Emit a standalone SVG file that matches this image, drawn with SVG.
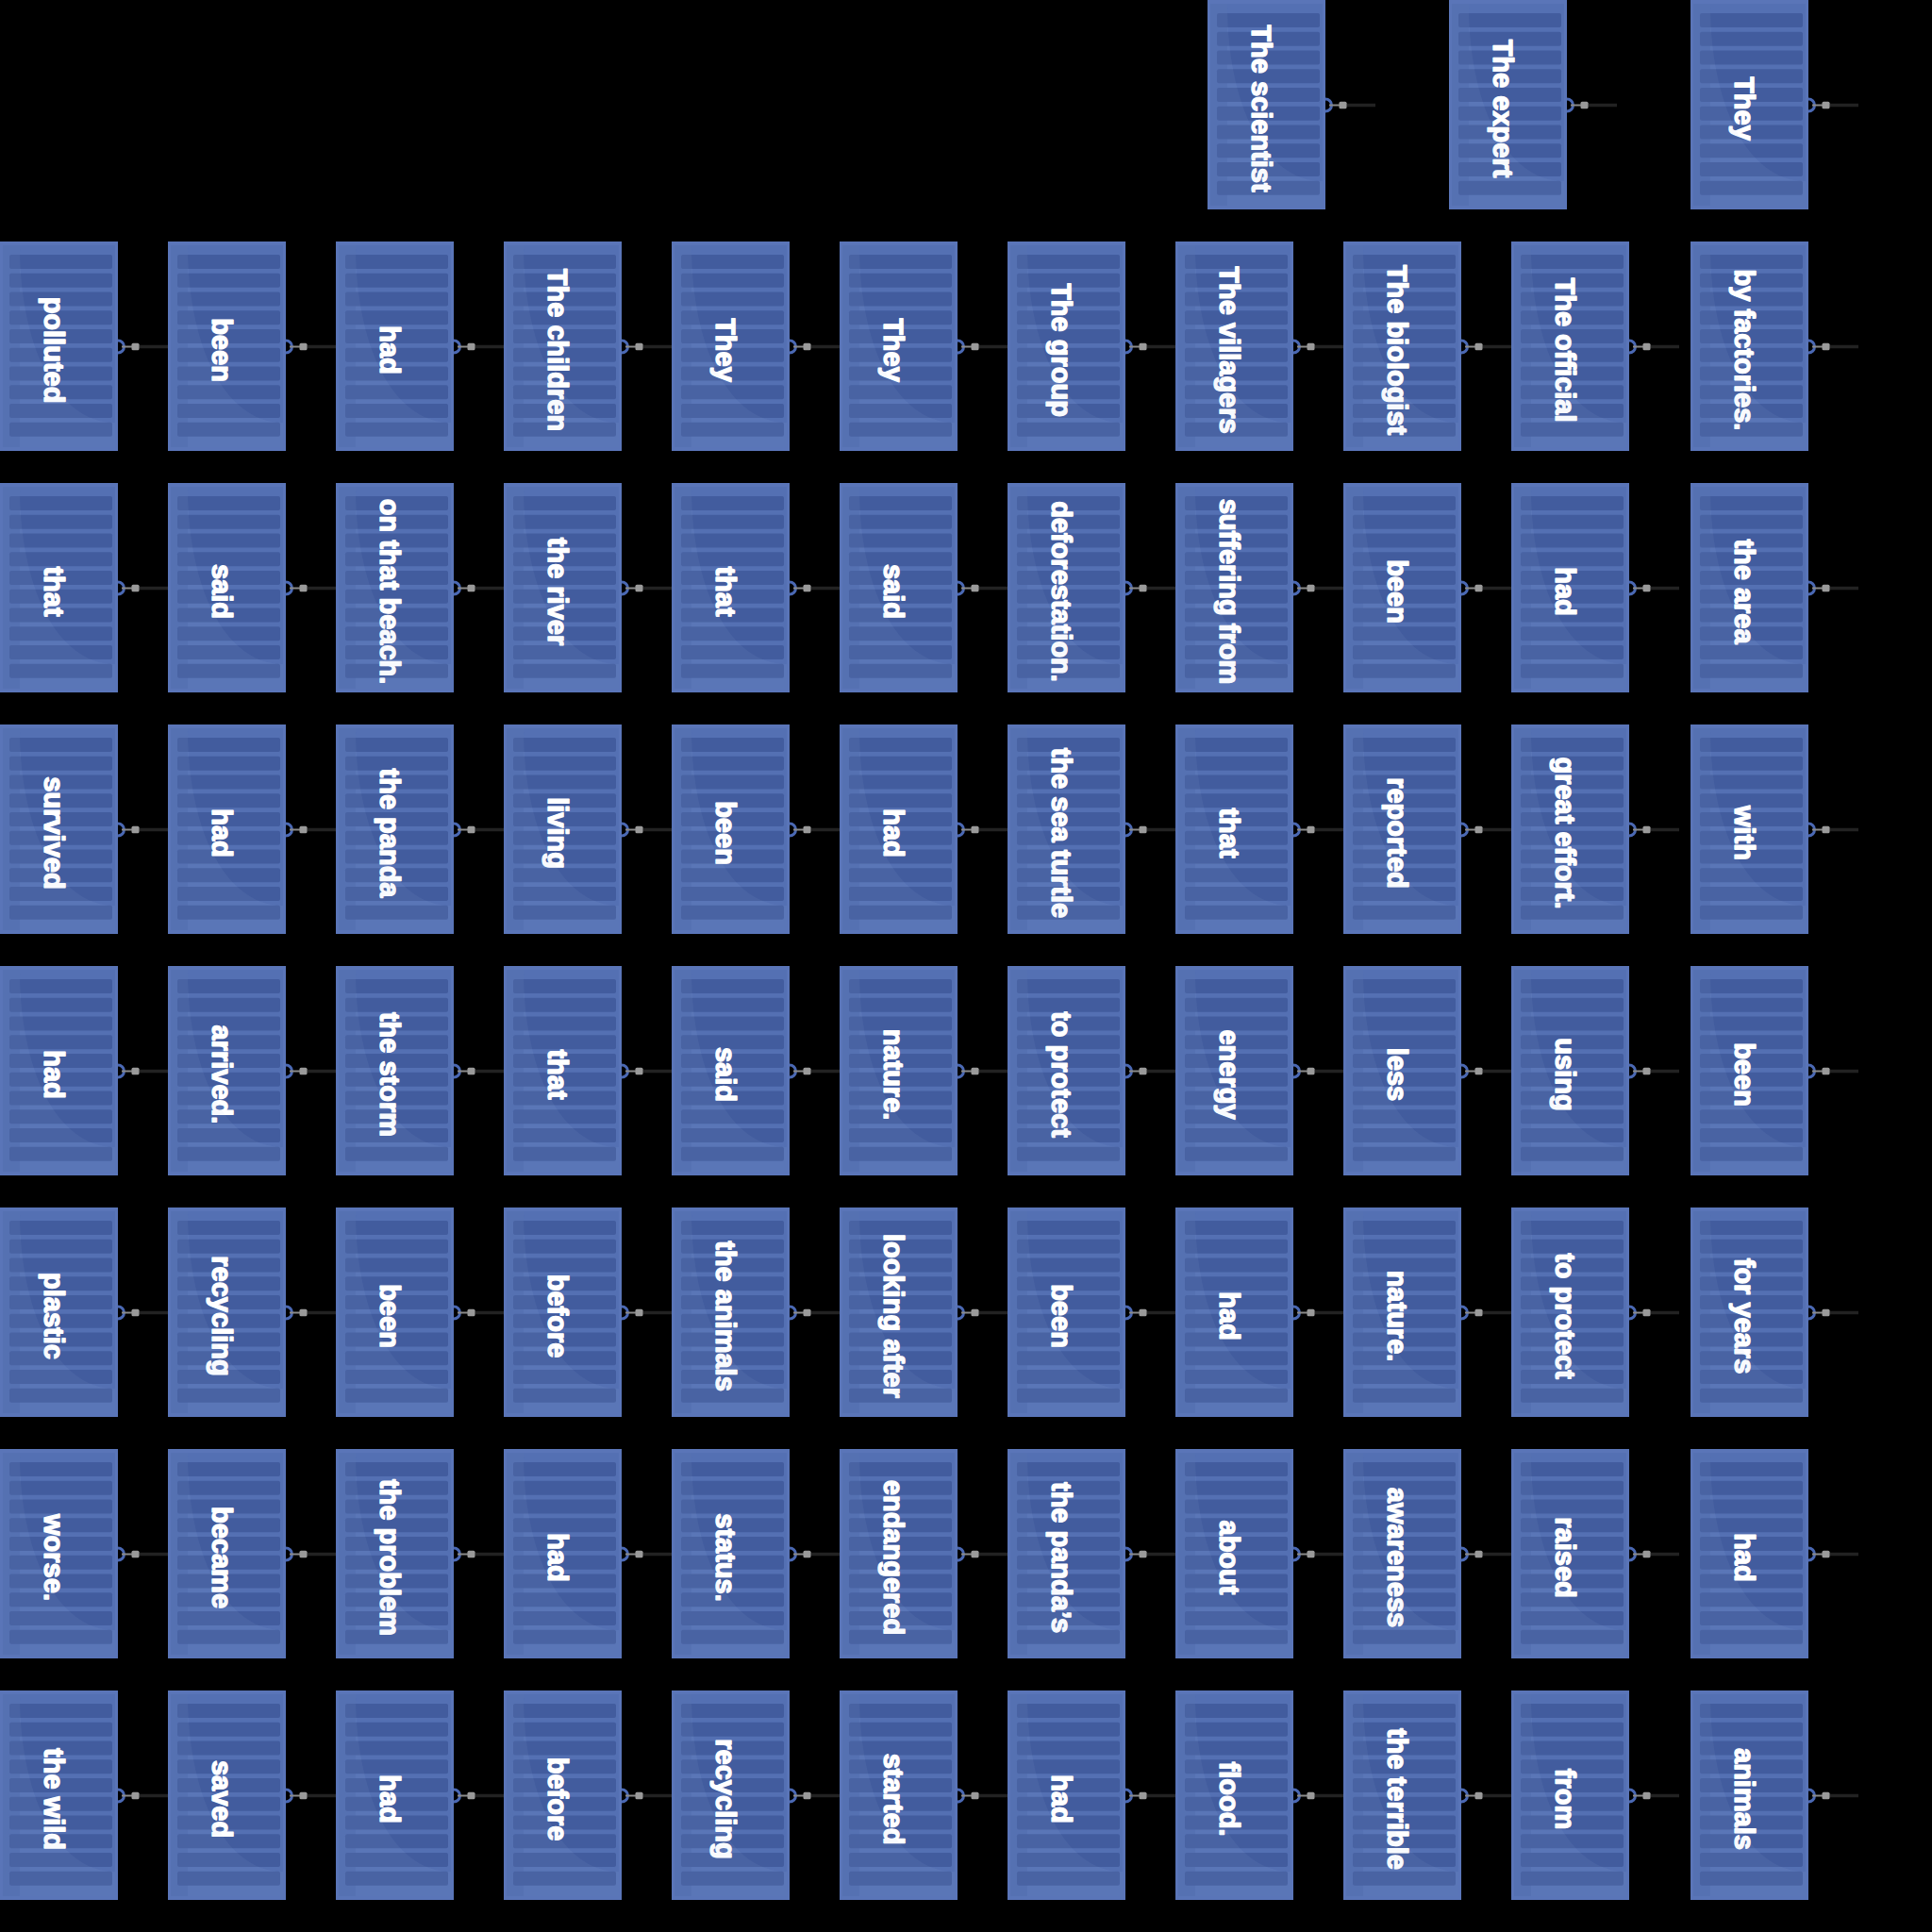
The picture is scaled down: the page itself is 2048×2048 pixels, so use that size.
<svg xmlns="http://www.w3.org/2000/svg" xmlns:xlink="http://www.w3.org/1999/xlink" width="2048" height="2048" viewBox="0 0 2048 2048">
<style>
.t{font-family:"Liberation Sans",Arial,sans-serif;font-weight:bold;font-size:29px;fill:#ffffff;stroke:#ffffff;stroke-width:1.4;stroke-linejoin:round;text-anchor:middle}
.bar{fill:#425c9e}
</style>
<defs>
<g id="bg">
<rect x="0" y="0" width="125" height="222" fill="#5a75b8"/>
<rect x="3" y="4" width="119" height="214" fill="#5470b3"/>
<rect x="3" y="4" width="18" height="214" fill="#4c67aa" opacity="0.6"/>
<rect class="bar" x="10" y="14" width="109" height="15" rx="2"/>
<rect class="bar" x="10" y="33.7" width="109" height="15" rx="2"/>
<rect class="bar" x="10" y="53.5" width="109" height="15" rx="2"/>
<rect class="bar" x="10" y="73.2" width="109" height="15" rx="2"/>
<rect class="bar" x="10" y="93" width="109" height="15" rx="2"/>
<rect class="bar" x="10" y="112.7" width="109" height="15" rx="2"/>
<rect class="bar" x="10" y="132.4" width="109" height="15" rx="2"/>
<rect class="bar" x="10" y="152.2" width="109" height="15" rx="2"/>
<rect class="bar" x="10" y="171.9" width="109" height="15" rx="2"/>
<rect class="bar" x="10" y="191.7" width="109" height="15" rx="2"/>
</g>
<path id="ov" d="M21,4 C21,110 60,192 122,192 L122,218 L3,218 L3,4 Z" fill="#a9b9e0" opacity="0.08"/>
<g id="conn">
<path d="M0,-6.5 A6.5,6.5 0 0 1 0,6.5" fill="none" stroke="#4a68b3" stroke-width="3"/>
<line x1="4" y1="0" x2="16" y2="0" stroke="#8a8a8a" stroke-width="2"/>
<line x1="22" y1="0" x2="53" y2="0" stroke="#222222" stroke-width="3.5"/>
<rect x="14.5" y="-3.7" width="8" height="7.4" rx="1.5" fill="#9a9a9a"/>
</g>
</defs>
<rect width="2048" height="2048" fill="#000000"/>
<g id="connectors">
<use href="#conn" transform="translate(1405,111.5)"/>
<use href="#conn" transform="translate(1661,111.5)"/>
<use href="#conn" transform="translate(1917,111.5)"/>
<g transform="translate(0,256)"><use href="#conn" transform="translate(125,111.5)"/><use href="#conn" transform="translate(303,111.5)"/><use href="#conn" transform="translate(481,111.5)"/><use href="#conn" transform="translate(659,111.5)"/><use href="#conn" transform="translate(837,111.5)"/><use href="#conn" transform="translate(1015,111.5)"/><use href="#conn" transform="translate(1193,111.5)"/><use href="#conn" transform="translate(1371,111.5)"/><use href="#conn" transform="translate(1549,111.5)"/><use href="#conn" transform="translate(1727,111.5)"/><use href="#conn" transform="translate(1917,111.5)"/></g>
<g transform="translate(0,512)"><use href="#conn" transform="translate(125,111.5)"/><use href="#conn" transform="translate(303,111.5)"/><use href="#conn" transform="translate(481,111.5)"/><use href="#conn" transform="translate(659,111.5)"/><use href="#conn" transform="translate(837,111.5)"/><use href="#conn" transform="translate(1015,111.5)"/><use href="#conn" transform="translate(1193,111.5)"/><use href="#conn" transform="translate(1371,111.5)"/><use href="#conn" transform="translate(1549,111.5)"/><use href="#conn" transform="translate(1727,111.5)"/><use href="#conn" transform="translate(1917,111.5)"/></g>
<g transform="translate(0,768)"><use href="#conn" transform="translate(125,111.5)"/><use href="#conn" transform="translate(303,111.5)"/><use href="#conn" transform="translate(481,111.5)"/><use href="#conn" transform="translate(659,111.5)"/><use href="#conn" transform="translate(837,111.5)"/><use href="#conn" transform="translate(1015,111.5)"/><use href="#conn" transform="translate(1193,111.5)"/><use href="#conn" transform="translate(1371,111.5)"/><use href="#conn" transform="translate(1549,111.5)"/><use href="#conn" transform="translate(1727,111.5)"/><use href="#conn" transform="translate(1917,111.5)"/></g>
<g transform="translate(0,1024)"><use href="#conn" transform="translate(125,111.5)"/><use href="#conn" transform="translate(303,111.5)"/><use href="#conn" transform="translate(481,111.5)"/><use href="#conn" transform="translate(659,111.5)"/><use href="#conn" transform="translate(837,111.5)"/><use href="#conn" transform="translate(1015,111.5)"/><use href="#conn" transform="translate(1193,111.5)"/><use href="#conn" transform="translate(1371,111.5)"/><use href="#conn" transform="translate(1549,111.5)"/><use href="#conn" transform="translate(1727,111.5)"/><use href="#conn" transform="translate(1917,111.5)"/></g>
<g transform="translate(0,1280)"><use href="#conn" transform="translate(125,111.5)"/><use href="#conn" transform="translate(303,111.5)"/><use href="#conn" transform="translate(481,111.5)"/><use href="#conn" transform="translate(659,111.5)"/><use href="#conn" transform="translate(837,111.5)"/><use href="#conn" transform="translate(1015,111.5)"/><use href="#conn" transform="translate(1193,111.5)"/><use href="#conn" transform="translate(1371,111.5)"/><use href="#conn" transform="translate(1549,111.5)"/><use href="#conn" transform="translate(1727,111.5)"/><use href="#conn" transform="translate(1917,111.5)"/></g>
<g transform="translate(0,1536)"><use href="#conn" transform="translate(125,111.5)"/><use href="#conn" transform="translate(303,111.5)"/><use href="#conn" transform="translate(481,111.5)"/><use href="#conn" transform="translate(659,111.5)"/><use href="#conn" transform="translate(837,111.5)"/><use href="#conn" transform="translate(1015,111.5)"/><use href="#conn" transform="translate(1193,111.5)"/><use href="#conn" transform="translate(1371,111.5)"/><use href="#conn" transform="translate(1549,111.5)"/><use href="#conn" transform="translate(1727,111.5)"/><use href="#conn" transform="translate(1917,111.5)"/></g>
<g transform="translate(0,1792)"><use href="#conn" transform="translate(125,111.5)"/><use href="#conn" transform="translate(303,111.5)"/><use href="#conn" transform="translate(481,111.5)"/><use href="#conn" transform="translate(659,111.5)"/><use href="#conn" transform="translate(837,111.5)"/><use href="#conn" transform="translate(1015,111.5)"/><use href="#conn" transform="translate(1193,111.5)"/><use href="#conn" transform="translate(1371,111.5)"/><use href="#conn" transform="translate(1549,111.5)"/><use href="#conn" transform="translate(1727,111.5)"/><use href="#conn" transform="translate(1917,111.5)"/></g>
</g>
<g id="nodes">
<g id="n0a" transform="translate(1280,0)"><use href="#bg"/><text class="t" transform="translate(47,115) rotate(90)">The scientist</text><use href="#ov"/></g>
<g id="n0b" transform="translate(1536,0)"><use href="#bg"/><text class="t" transform="translate(47,115) rotate(90)">The expert</text><use href="#ov"/></g>
<g id="n0c" transform="translate(1792,0)"><use href="#bg"/><text class="t" transform="translate(47,115) rotate(90)">They</text><use href="#ov"/></g>

<g id="n1-0" transform="translate(0,256)"><use href="#bg"/><text class="t" transform="translate(47,115) rotate(90)">polluted</text><use href="#ov"/></g>
<g id="n1-1" transform="translate(178,256)"><use href="#bg"/><text class="t" transform="translate(47,115) rotate(90)">been</text><use href="#ov"/></g>
<g id="n1-2" transform="translate(356,256)"><use href="#bg"/><text class="t" transform="translate(47,115) rotate(90)">had</text><use href="#ov"/></g>
<g id="n1-3" transform="translate(534,256)"><use href="#bg"/><text class="t" transform="translate(47,115) rotate(90)">The children</text><use href="#ov"/></g>
<g id="n1-4" transform="translate(712,256)"><use href="#bg"/><text class="t" transform="translate(47,115) rotate(90)">They</text><use href="#ov"/></g>
<g id="n1-5" transform="translate(890,256)"><use href="#bg"/><text class="t" transform="translate(47,115) rotate(90)">They</text><use href="#ov"/></g>
<g id="n1-6" transform="translate(1068,256)"><use href="#bg"/><text class="t" transform="translate(47,115) rotate(90)">The group</text><use href="#ov"/></g>
<g id="n1-7" transform="translate(1246,256)"><use href="#bg"/><text class="t" transform="translate(47,115) rotate(90)">The villagers</text><use href="#ov"/></g>
<g id="n1-8" transform="translate(1424,256)"><use href="#bg"/><text class="t" transform="translate(47,115) rotate(90)">The biologist</text><use href="#ov"/></g>
<g id="n1-9" transform="translate(1602,256)"><use href="#bg"/><text class="t" transform="translate(47,115) rotate(90)">The official</text><use href="#ov"/></g>
<g id="n1-10" transform="translate(1792,256)"><use href="#bg"/><text class="t" transform="translate(47,115) rotate(90)">by factories.</text><use href="#ov"/></g>

<g id="n2-0" transform="translate(0,512)"><use href="#bg"/><text class="t" transform="translate(47,115) rotate(90)">that</text><use href="#ov"/></g>
<g id="n2-1" transform="translate(178,512)"><use href="#bg"/><text class="t" transform="translate(47,115) rotate(90)">said</text><use href="#ov"/></g>
<g id="n2-2" transform="translate(356,512)"><use href="#bg"/><text class="t" transform="translate(47,115) rotate(90)">on that beach.</text><use href="#ov"/></g>
<g id="n2-3" transform="translate(534,512)"><use href="#bg"/><text class="t" transform="translate(47,115) rotate(90)">the river</text><use href="#ov"/></g>
<g id="n2-4" transform="translate(712,512)"><use href="#bg"/><text class="t" transform="translate(47,115) rotate(90)">that</text><use href="#ov"/></g>
<g id="n2-5" transform="translate(890,512)"><use href="#bg"/><text class="t" transform="translate(47,115) rotate(90)">said</text><use href="#ov"/></g>
<g id="n2-6" transform="translate(1068,512)"><use href="#bg"/><text class="t" transform="translate(47,115) rotate(90)">deforestation.</text><use href="#ov"/></g>
<g id="n2-7" transform="translate(1246,512)"><use href="#bg"/><text class="t" transform="translate(47,115) rotate(90)">suffering from</text><use href="#ov"/></g>
<g id="n2-8" transform="translate(1424,512)"><use href="#bg"/><text class="t" transform="translate(47,115) rotate(90)">been</text><use href="#ov"/></g>
<g id="n2-9" transform="translate(1602,512)"><use href="#bg"/><text class="t" transform="translate(47,115) rotate(90)">had</text><use href="#ov"/></g>
<g id="n2-10" transform="translate(1792,512)"><use href="#bg"/><text class="t" transform="translate(47,115) rotate(90)">the area</text><use href="#ov"/></g>

<g id="n3-0" transform="translate(0,768)"><use href="#bg"/><text class="t" transform="translate(47,115) rotate(90)">survived</text><use href="#ov"/></g>
<g id="n3-1" transform="translate(178,768)"><use href="#bg"/><text class="t" transform="translate(47,115) rotate(90)">had</text><use href="#ov"/></g>
<g id="n3-2" transform="translate(356,768)"><use href="#bg"/><text class="t" transform="translate(47,115) rotate(90)">the panda</text><use href="#ov"/></g>
<g id="n3-3" transform="translate(534,768)"><use href="#bg"/><text class="t" transform="translate(47,115) rotate(90)">living</text><use href="#ov"/></g>
<g id="n3-4" transform="translate(712,768)"><use href="#bg"/><text class="t" transform="translate(47,115) rotate(90)">been</text><use href="#ov"/></g>
<g id="n3-5" transform="translate(890,768)"><use href="#bg"/><text class="t" transform="translate(47,115) rotate(90)">had</text><use href="#ov"/></g>
<g id="n3-6" transform="translate(1068,768)"><use href="#bg"/><text class="t" transform="translate(47,115) rotate(90)">the sea turtle</text><use href="#ov"/></g>
<g id="n3-7" transform="translate(1246,768)"><use href="#bg"/><text class="t" transform="translate(47,115) rotate(90)">that</text><use href="#ov"/></g>
<g id="n3-8" transform="translate(1424,768)"><use href="#bg"/><text class="t" transform="translate(47,115) rotate(90)">reported</text><use href="#ov"/></g>
<g id="n3-9" transform="translate(1602,768)"><use href="#bg"/><text class="t" transform="translate(47,115) rotate(90)">great effort.</text><use href="#ov"/></g>
<g id="n3-10" transform="translate(1792,768)"><use href="#bg"/><text class="t" transform="translate(47,115) rotate(90)">with</text><use href="#ov"/></g>

<g id="n4-0" transform="translate(0,1024)"><use href="#bg"/><text class="t" transform="translate(47,115) rotate(90)">had</text><use href="#ov"/></g>
<g id="n4-1" transform="translate(178,1024)"><use href="#bg"/><text class="t" transform="translate(47,115) rotate(90)">arrived.</text><use href="#ov"/></g>
<g id="n4-2" transform="translate(356,1024)"><use href="#bg"/><text class="t" transform="translate(47,115) rotate(90)">the storm</text><use href="#ov"/></g>
<g id="n4-3" transform="translate(534,1024)"><use href="#bg"/><text class="t" transform="translate(47,115) rotate(90)">that</text><use href="#ov"/></g>
<g id="n4-4" transform="translate(712,1024)"><use href="#bg"/><text class="t" transform="translate(47,115) rotate(90)">said</text><use href="#ov"/></g>
<g id="n4-5" transform="translate(890,1024)"><use href="#bg"/><text class="t" transform="translate(47,115) rotate(90)">nature.</text><use href="#ov"/></g>
<g id="n4-6" transform="translate(1068,1024)"><use href="#bg"/><text class="t" transform="translate(47,115) rotate(90)">to protect</text><use href="#ov"/></g>
<g id="n4-7" transform="translate(1246,1024)"><use href="#bg"/><text class="t" transform="translate(47,115) rotate(90)">energy</text><use href="#ov"/></g>
<g id="n4-8" transform="translate(1424,1024)"><use href="#bg"/><text class="t" transform="translate(47,115) rotate(90)">less</text><use href="#ov"/></g>
<g id="n4-9" transform="translate(1602,1024)"><use href="#bg"/><text class="t" transform="translate(47,115) rotate(90)">using</text><use href="#ov"/></g>
<g id="n4-10" transform="translate(1792,1024)"><use href="#bg"/><text class="t" transform="translate(47,115) rotate(90)">been</text><use href="#ov"/></g>

<g id="n5-0" transform="translate(0,1280)"><use href="#bg"/><text class="t" transform="translate(47,115) rotate(90)">plastic</text><use href="#ov"/></g>
<g id="n5-1" transform="translate(178,1280)"><use href="#bg"/><text class="t" transform="translate(47,115) rotate(90)">recycling</text><use href="#ov"/></g>
<g id="n5-2" transform="translate(356,1280)"><use href="#bg"/><text class="t" transform="translate(47,115) rotate(90)">been</text><use href="#ov"/></g>
<g id="n5-3" transform="translate(534,1280)"><use href="#bg"/><text class="t" transform="translate(47,115) rotate(90)">before</text><use href="#ov"/></g>
<g id="n5-4" transform="translate(712,1280)"><use href="#bg"/><text class="t" transform="translate(47,115) rotate(90)">the animals</text><use href="#ov"/></g>
<g id="n5-5" transform="translate(890,1280)"><use href="#bg"/><text class="t" transform="translate(47,115) rotate(90)">looking after</text><use href="#ov"/></g>
<g id="n5-6" transform="translate(1068,1280)"><use href="#bg"/><text class="t" transform="translate(47,115) rotate(90)">been</text><use href="#ov"/></g>
<g id="n5-7" transform="translate(1246,1280)"><use href="#bg"/><text class="t" transform="translate(47,115) rotate(90)">had</text><use href="#ov"/></g>
<g id="n5-8" transform="translate(1424,1280)"><use href="#bg"/><text class="t" transform="translate(47,115) rotate(90)">nature.</text><use href="#ov"/></g>
<g id="n5-9" transform="translate(1602,1280)"><use href="#bg"/><text class="t" transform="translate(47,115) rotate(90)">to protect</text><use href="#ov"/></g>
<g id="n5-10" transform="translate(1792,1280)"><use href="#bg"/><text class="t" transform="translate(47,115) rotate(90)">for years</text><use href="#ov"/></g>

<g id="n6-0" transform="translate(0,1536)"><use href="#bg"/><text class="t" transform="translate(47,115) rotate(90)">worse.</text><use href="#ov"/></g>
<g id="n6-1" transform="translate(178,1536)"><use href="#bg"/><text class="t" transform="translate(47,115) rotate(90)">became</text><use href="#ov"/></g>
<g id="n6-2" transform="translate(356,1536)"><use href="#bg"/><text class="t" transform="translate(47,115) rotate(90)">the problem</text><use href="#ov"/></g>
<g id="n6-3" transform="translate(534,1536)"><use href="#bg"/><text class="t" transform="translate(47,115) rotate(90)">had</text><use href="#ov"/></g>
<g id="n6-4" transform="translate(712,1536)"><use href="#bg"/><text class="t" transform="translate(47,115) rotate(90)">status.</text><use href="#ov"/></g>
<g id="n6-5" transform="translate(890,1536)"><use href="#bg"/><text class="t" transform="translate(47,115) rotate(90)">endangered</text><use href="#ov"/></g>
<g id="n6-6" transform="translate(1068,1536)"><use href="#bg"/><text class="t" transform="translate(47,115) rotate(90)">the panda’s</text><use href="#ov"/></g>
<g id="n6-7" transform="translate(1246,1536)"><use href="#bg"/><text class="t" transform="translate(47,115) rotate(90)">about</text><use href="#ov"/></g>
<g id="n6-8" transform="translate(1424,1536)"><use href="#bg"/><text class="t" transform="translate(47,115) rotate(90)">awareness</text><use href="#ov"/></g>
<g id="n6-9" transform="translate(1602,1536)"><use href="#bg"/><text class="t" transform="translate(47,115) rotate(90)">raised</text><use href="#ov"/></g>
<g id="n6-10" transform="translate(1792,1536)"><use href="#bg"/><text class="t" transform="translate(47,115) rotate(90)">had</text><use href="#ov"/></g>

<g id="n7-0" transform="translate(0,1792)"><use href="#bg"/><text class="t" transform="translate(47,115) rotate(90)">the wild</text><use href="#ov"/></g>
<g id="n7-1" transform="translate(178,1792)"><use href="#bg"/><text class="t" transform="translate(47,115) rotate(90)">saved</text><use href="#ov"/></g>
<g id="n7-2" transform="translate(356,1792)"><use href="#bg"/><text class="t" transform="translate(47,115) rotate(90)">had</text><use href="#ov"/></g>
<g id="n7-3" transform="translate(534,1792)"><use href="#bg"/><text class="t" transform="translate(47,115) rotate(90)">before</text><use href="#ov"/></g>
<g id="n7-4" transform="translate(712,1792)"><use href="#bg"/><text class="t" transform="translate(47,115) rotate(90)">recycling</text><use href="#ov"/></g>
<g id="n7-5" transform="translate(890,1792)"><use href="#bg"/><text class="t" transform="translate(47,115) rotate(90)">started</text><use href="#ov"/></g>
<g id="n7-6" transform="translate(1068,1792)"><use href="#bg"/><text class="t" transform="translate(47,115) rotate(90)">had</text><use href="#ov"/></g>
<g id="n7-7" transform="translate(1246,1792)"><use href="#bg"/><text class="t" transform="translate(47,115) rotate(90)">flood.</text><use href="#ov"/></g>
<g id="n7-8" transform="translate(1424,1792)"><use href="#bg"/><text class="t" transform="translate(47,115) rotate(90)">the terrible</text><use href="#ov"/></g>
<g id="n7-9" transform="translate(1602,1792)"><use href="#bg"/><text class="t" transform="translate(47,115) rotate(90)">from</text><use href="#ov"/></g>
<g id="n7-10" transform="translate(1792,1792)"><use href="#bg"/><text class="t" transform="translate(47,115) rotate(90)">animals</text><use href="#ov"/></g>
</g>
</svg>
